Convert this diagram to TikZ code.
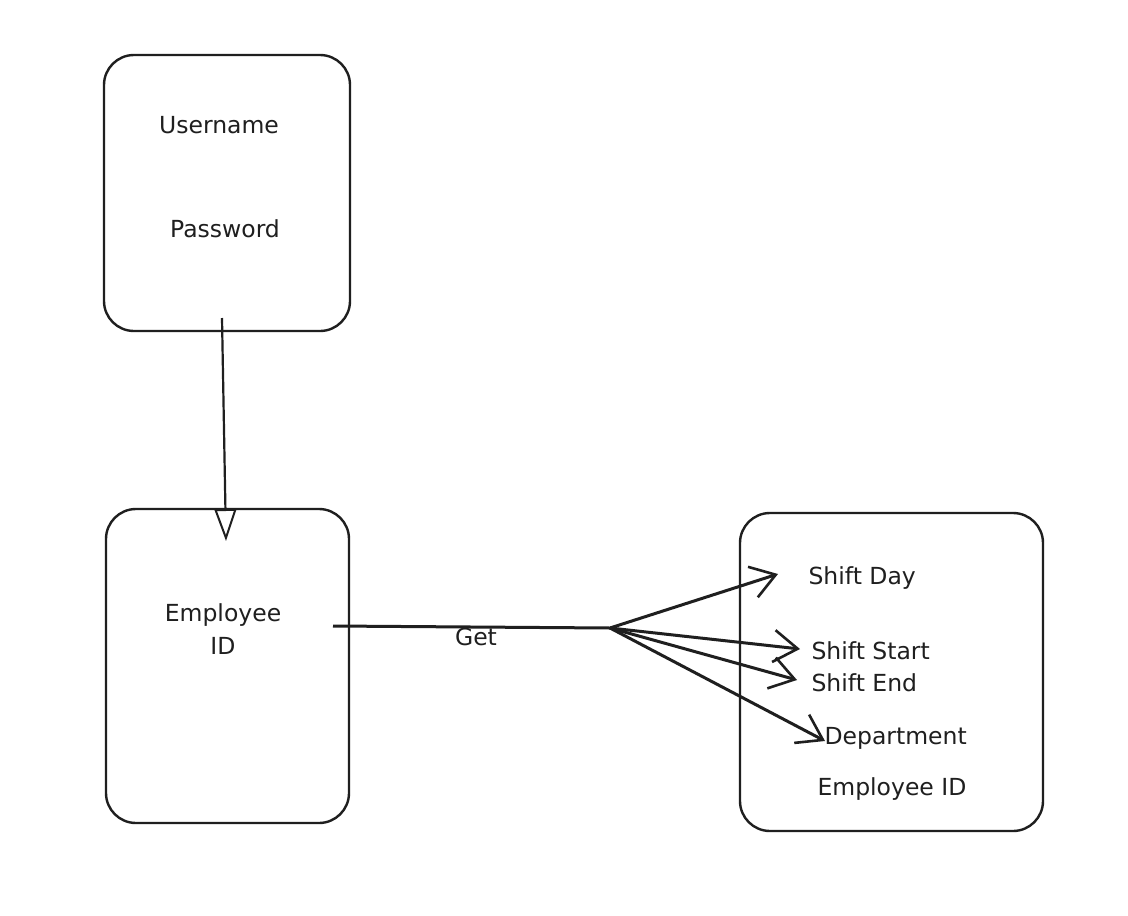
\documentclass[tikz,border=0pt]{standalone}
\usepackage{fontspec}
\setmainfont{DejaVu Sans}
\usetikzlibrary{arrows.meta}
\begin{document}
\begin{tikzpicture}[x=1pt,y=-1pt,
  box/.style={draw=black!88,line width=2.4pt,rounded corners=30pt,inner sep=0pt},
  lbl/.style={font=\fontsize{23.5}{29}\selectfont,text=black!88,align=center},
  conn/.style={draw=black!88,line width=3pt},
  barb/.style={conn,-{Straight Barb[length=24pt,width=32pt,line width=2.6pt]}},
  tri/.style={conn,line width=2.2pt,-{Triangle[open,length=32pt,width=22pt,line width=2pt]}}]
\useasboundingbox[fill=white] (0,0) rectangle (1128,916);
% boxes
\node[box,minimum width=246pt,minimum height=276pt] (login) at (227,193) {};
\node[box,minimum width=243pt,minimum height=314pt] (emp) at (227.5,666) {};
\node[box,minimum width=303pt,minimum height=318pt] (shift) at (891.5,672) {};
% texts
\node[lbl] (user) at (219,125) {Username};
\node[lbl] (pass) at (225,229) {Password};
\node[lbl] (empid) at (223,629) {Employee\\[4pt]ID};
\node[lbl] (get) at (476,637) {Get};
\node[lbl,anchor=west] (sday) at (805,578) {Shift Day};
\node[lbl,anchor=west] (sstart) at (808,651) {Shift Start};
\node[lbl,anchor=west] (send) at (808,683) {Shift End};
\node[lbl,anchor=west] (dept) at (821,738) {Department};
\node[lbl,anchor=west] (eid2) at (814,789) {Employee ID};
% connectors
\coordinate (a0) at (222,318);
\coordinate (a1) at (226,541);
\draw[tri] (a0) -- (a1);
\coordinate (g0) at (333,626);
\coordinate (hub) at (610,628);
\draw[conn] (g0) -- (hub);
\coordinate (t1) at (778,574);
\coordinate (t2) at (800,649);
\coordinate (t3) at (797,680);
\coordinate (t4) at (825,741);
\draw[barb] (hub) -- (t1);
\draw[barb] (hub) -- (t2);
\draw[barb] (hub) -- (t3);
\draw[barb] (hub) -- (t4);
\end{tikzpicture}
\end{document}
